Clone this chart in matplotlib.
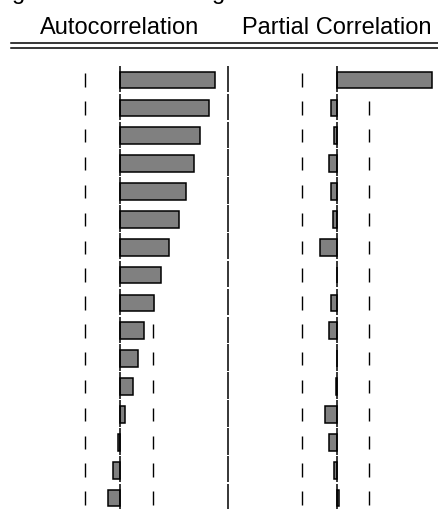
import numpy as np
import matplotlib
matplotlib.use("Agg")
import matplotlib.pyplot as plt
from matplotlib.lines import Line2D

plt.rcParams['font.family'] = ['Liberation Sans', 'DejaVu Sans']

# correlogram values, lags 1..16
lags = np.arange(1, 17)
ac = [0.880, 0.824, 0.744, 0.685, 0.608, 0.546, 0.454, 0.377,
      0.318, 0.225, 0.167, 0.117, 0.043, -0.020, -0.068, -0.114]
pac = [0.880, -0.053, -0.025, -0.068, -0.053, -0.037, -0.157, 0.004,
       -0.053, -0.068, 0.003, -0.004, -0.111, -0.068, -0.022, 0.020]
band_lo, band_hi = -0.322, 0.302  # approx. -/+ 2/sqrt(T)
headers = ["Autocorrelation", "Partial Correlation"]

W, H = 438, 510
fig = plt.figure(figsize=(W / 100, H / 100), dpi=100)

unit = 108.0          # pixels per 1.0 of correlation
row_px = 27.87        # row pitch in pixels
first_row = 81.0      # centre of lag 1, pixels from the top
top_px = first_row - row_px
n_rows_visible = (H - top_px) / row_px


def make_panel(left_px, right_px, zero_px):
    ax = fig.add_axes([left_px / W, 0, (right_px - left_px) / W, (H - top_px) / H])
    ax.set_xlim((left_px - zero_px) / unit, (right_px - zero_px) / unit)
    ax.set_ylim(n_rows_visible, 0)
    ax.axis('off')
    return ax


def draw_rows(ax, vals, sep=False):
    for lag in lags:
        # +-2 s.e. dashes, one per row
        ax.vlines([band_lo, band_hi], lag - 0.24, lag + 0.24, color='black', lw=1.0, zorder=1)
        ax.vlines(0, lag - 0.51, lag + 0.44, color='black', lw=1.1, zorder=3)
        if sep:
            ax.vlines(1.0, lag - 0.51, lag + 0.44, color='black', lw=1.1, zorder=3)
    ax.barh(lags, vals, height=0.6, left=0, color='#808080',
            edgecolor='black', linewidth=1.1, zorder=2)


ax1 = make_panel(0, 230, 120)
draw_rows(ax1, ac, sep=True)
ax2 = make_panel(230, W, 336.7)
draw_rows(ax2, pac)

# column headers
for txt, cx in zip(headers, [120, 336.5]):
    fig.text(cx / W, 1 - 34.3 / H, txt, ha='center', va='baseline', fontsize=17)

# tail of the line above the headers, cut off by the top edge
for gx in [12, 212]:
    fig.text(gx / W, 1 + 0.5 / H, "g", ha='left', va='baseline', fontsize=17)

# double rule under the headers
for yp in [44.3, 49.3]:
    fig.add_artist(Line2D([11 / W, 1], [1 - yp / H, 1 - yp / H],
                          transform=fig.transFigure, color='black', lw=1.1))

fig.savefig("out.png", dpi=100)
